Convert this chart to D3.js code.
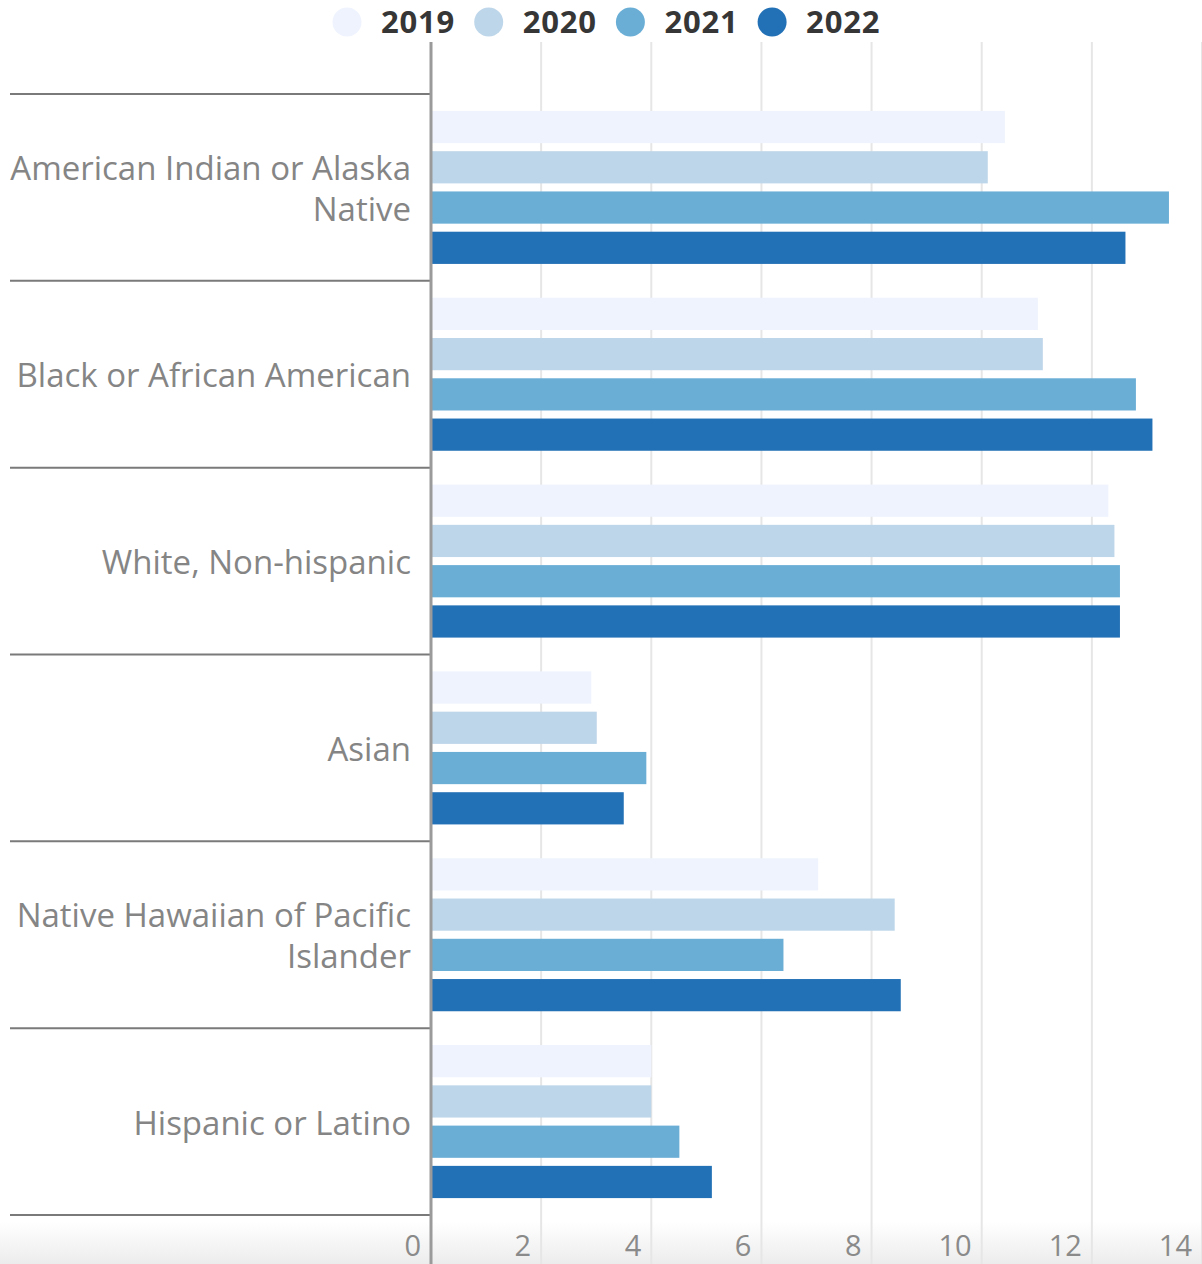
<!DOCTYPE html>
<html>
<head>
<meta charset="utf-8">
<script src="https://cdn.jsdelivr.net/npm/d3@7"></script>
<style>
  html, body { margin: 0; padding: 0; background: #fff; }
  svg { display: block; }
</style>
</head>
<body>
<div id="chart"></div>
<script>
// Race / ethnicity groups, top to bottom
const categories = [
  "American Indian or Alaska Native",
  "Black or African American",
  "White, Non-hispanic",
  "Asian",
  "Native Hawaiian of Pacific Islander",
  "Hispanic or Latino"
];
const years = ["2019", "2020", "2021", "2022"];

// One array per year, aligned with categories
const values2019 = [10.42, 11.02, 12.30, 2.91, 7.03, 4.00];
const values2020 = [10.11, 11.11, 12.41, 3.01, 8.42, 4.00];
const values2021 = [13.40, 12.80, 12.51, 3.91, 6.40, 4.51];
const values2022 = [12.61, 13.10, 12.51, 3.50, 8.53, 5.10];

const xTicks = [0, 2, 4, 6, 8, 10, 12, 14];
const yearColors = ["#eef3fd", "#bed6ea", "#6aaed6", "#2270b5"];

const seriesByYear = { "2019": values2019, "2020": values2020, "2021": values2021, "2022": values2022 };
const rows = categories.map((c, i) => ({
  category: c,
  bars: years.map(y => ({ year: y, value: seriesByYear[y][i] }))
}));

const W = 1202, H = 1264;
const FONT = "'Open Sans', 'Noto Sans', sans-serif";

const svg = d3.select("#chart").append("svg")
  .attr("width", W).attr("height", H);

// soft shade along the bottom edge
const defs = svg.append("defs");
const grad = defs.append("linearGradient").attr("id", "bottomShade")
  .attr("x1", 0).attr("y1", 0).attr("x2", 0).attr("y2", 1);
grad.append("stop").attr("offset", "0%").attr("stop-color", "#ffffff");
grad.append("stop").attr("offset", "100%").attr("stop-color", "#ececec");
svg.append("rect").attr("x", 0).attr("y", 1222).attr("width", W).attr("height", H - 1222)
  .attr("fill", "url(#bottomShade)");

const x = d3.scaleLinear().domain([0, 14]).range([431, 1202]);
const y0 = d3.scaleBand().domain(categories).range([94, 1215]).padding(0);
const y1 = d3.scaleBand().domain(years).range([0, y0.bandwidth()])
  .paddingInner(0.2).paddingOuter(0.42);
const color = d3.scaleOrdinal().domain(years).range(yearColors);

// vertical gridlines
svg.append("g").selectAll("line").data(xTicks.filter(t => t > 0)).join("line")
  .attr("x1", d => x(d)).attr("x2", d => x(d))
  .attr("y1", 42).attr("y2", H)
  .attr("stroke", "#e6e6e6").attr("stroke-width", 2);

// bars
const groups = svg.append("g").selectAll("g").data(rows).join("g")
  .attr("transform", d => `translate(0,${y0(d.category)})`);
groups.selectAll("rect").data(d => d.bars).join("rect")
  .attr("x", x(0) + 1)
  .attr("y", d => y1(d.year))
  .attr("width", d => x(d.value) - x(0) - 1)
  .attr("height", y1.bandwidth())
  .attr("fill", d => color(d.year));

// separators between groups
const seps = categories.map(c => y0(c)).concat([y0.range()[1]]);
svg.append("g").selectAll("line").data(seps).join("line")
  .attr("x1", 10).attr("x2", 431)
  .attr("y1", d => d).attr("y2", d => d)
  .attr("stroke", "#7a7a7a").attr("stroke-width", 2);

// category axis line
svg.append("line")
  .attr("x1", 431).attr("x2", 431).attr("y1", 42).attr("y2", H)
  .attr("stroke", "#9a9a9a").attr("stroke-width", 3);

// category labels, wrapped to the label column width
const labelSize = 33, lineH = 41, maxW = 415;
const labels = svg.append("g").attr("font-family", FONT).attr("font-size", labelSize)
  .attr("fill", "#858585").attr("text-anchor", "end");
const measure = svg.append("text").attr("font-family", FONT).attr("font-size", labelSize)
  .attr("visibility", "hidden");
function wrap(str) {
  const words = str.split(" ");
  const lines = [];
  let cur = "";
  words.forEach(w => {
    const trial = cur ? cur + " " + w : w;
    measure.text(trial);
    if (measure.node().getComputedTextLength() > maxW && cur) {
      lines.push(cur); cur = w;
    } else cur = trial;
  });
  lines.push(cur);
  return lines;
}
rows.forEach(r => {
  const lines = wrap(r.category);
  const cy = y0(r.category) + y0.bandwidth() / 2;
  const t = labels.append("text").attr("x", 411)
    .attr("y", cy - (lines.length - 1) * lineH / 2 + labelSize * 0.34 + 2);
  lines.forEach((ln, i) => {
    t.append("tspan").attr("x", 411).attr("dy", i === 0 ? 0 : lineH).text(ln);
  });
});
measure.remove();

// value axis tick labels
svg.append("g").attr("font-family", FONT).attr("font-size", 29).attr("fill", "#8a8a8a")
  .attr("text-anchor", "end")
  .selectAll("text").data(xTicks).join("text")
  .attr("x", d => x(d) - 10).attr("y", 1256)
  .text(d => d3.format("d")(d));

// legend
const legend = svg.append("g").attr("font-family", FONT);
const legendItems = legend.selectAll("g").data(years).join("g")
  .attr("transform", (d, i) => `translate(${347 + i * 141.7},22)`);
legendItems.append("circle").attr("r", 14.5).attr("fill", d => color(d));
legendItems.append("text").attr("x", 34).attr("y", 10.5)
  .attr("font-size", 31).attr("font-weight", 700).attr("letter-spacing", 0.8)
  .attr("fill", "#363636")
  .text(d => d);
</script>
</body>
</html>
